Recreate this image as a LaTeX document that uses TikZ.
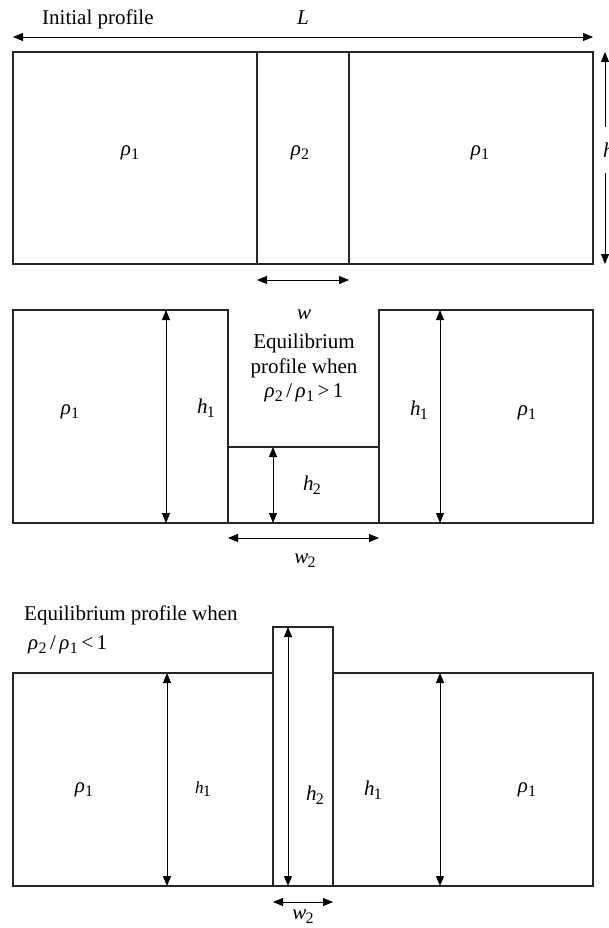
\documentclass[tikz,border=0pt]{standalone}
\usepackage{fontspec}
\setmainfont{Liberation Serif}
\usetikzlibrary{arrows.meta}
\newcommand{\subx}[1]{\raisebox{-0.42ex}{\fontsize{16}{16}\selectfont #1}}
\newcommand{\rh}[1]{\textit{ρ}\kern0.3pt\subx{#1}}
\newcommand{\hh}[1]{\textit{h}\kern-0.8pt\subx{#1}}
\newcommand{\ww}[1]{\textit{w}\kern-0.8pt\subx{#1}}
\tikzset{
  box/.style={draw=black!85, line width=1.2pt},
  dim/.style={line width=0.8pt, {Triangle[length=10pt,width=8pt]}-{Triangle[length=10pt,width=8pt]}},
  dimone/.style={line width=0.8pt, -{Triangle[length=10pt,width=8pt]}},
  lbl/.style={font=\fontsize{21}{24}\selectfont, inner sep=0pt},
  slbl/.style={font=\fontsize{17}{20}\selectfont, inner sep=0pt}
}
\begin{document}
\begin{tikzpicture}[x=1pt,y=-1pt]
\useasboundingbox (0,0) rectangle (608,928);
% ---------- Initial profile ----------
\node[lbl, anchor=base west] (tinit) at (42,25) {Initial profile};
\node[lbl, anchor=base] (tL) at (303,25) {\textit{L}};
\coordinate (La) at (13,37); \coordinate (Lb) at (593,37);
\draw[dim] (La) -- (Lb);
\draw[box] (13,52) rectangle (593,264);
\draw[box] (257,52) rectangle (349,264);
\node[lbl] (r1a) at (130,153) {\rh{1}};
\node[lbl] (r2a) at (300,153) {\rh{2}};
\node[lbl] (r1b) at (480,153) {\rh{1}};
\coordinate (hT) at (605,52); \coordinate (hTm) at (605,127);
\coordinate (hB) at (605,264); \coordinate (hBm) at (605,173);
\draw[dimone] (hTm) -- (hT);
\draw[dimone] (hBm) -- (hB);
\node[lbl, anchor=west] (hlab) at (603,150) {\textit{h}};
\coordinate (wa) at (257,280); \coordinate (wb) at (349,280);
\draw[dim] (wa) -- (wb);
\node[lbl] (wlab) at (304,315) {\textit{w}};
% ---------- Equilibrium rho2/rho1 > 1 ----------
\node[lbl] (eq1) at (304,343) {Equilibrium};
\node[lbl] (eq2) at (304,368) {profile when};
\node[lbl] (eq3) at (304,393) {\rh{2}\,/\,\rh{1}\,>\,1};
\draw[box] (13,310) rectangle (228,523);
\draw[box] (379,310) rectangle (593,523);
\draw[box] (228,447) rectangle (379,523);
\coordinate (m1t) at (166,310); \coordinate (m1b) at (166,523);
\coordinate (m2t) at (440,310); \coordinate (m2b) at (440,523);
\coordinate (m3t) at (273,447); \coordinate (m3b) at (273,523);
\draw[dim] (m1t) -- (m1b);
\draw[dim] (m2t) -- (m2b);
\draw[dim] (m3t) -- (m3b);
\coordinate (mwa) at (228,538); \coordinate (mwb) at (379,538);
\draw[dim] (mwa) -- (mwb);
\node[lbl] (mr1) at (70,412) {\rh{1}};
\node[lbl] (mh1) at (206,408) {\hh{1}};
\node[lbl] (mh2) at (312,485) {\hh{2}};
\node[lbl] (mh1b) at (419,410) {\hh{1}};
\node[lbl] (mr1b) at (527,413) {\rh{1}};
\node[lbl] (mw2) at (305,561) {\ww{2}};
% ---------- Equilibrium rho2/rho1 < 1 ----------
\node[lbl, anchor=west] (eq4) at (24,615) {Equilibrium profile when};
\node[lbl, anchor=west] (eq5) at (28,645) {\rh{2}\,/\,\rh{1}\,<\,1};
\draw[box] (13,673) rectangle (273,886);
\draw[box] (333,673) rectangle (593,886);
\draw[box] (273,627) rectangle (333,886);
\coordinate (b1t) at (167,673); \coordinate (b1b) at (167,886);
\coordinate (b2t) at (288,627); \coordinate (b2b) at (288,886);
\coordinate (b3t) at (440,673); \coordinate (b3b) at (440,886);
\draw[dim] (b1t) -- (b1b);
\draw[dim] (b2t) -- (b2b);
\draw[dim] (b3t) -- (b3b);
\coordinate (bwa) at (273,902); \coordinate (bwb) at (333,902);
\draw[dim] (bwa) -- (bwb);
\node[lbl] (br1) at (84,790) {\rh{1}};
\node[slbl] (bh1) at (203,789) {\hh{1}};
\node[lbl] (bh2) at (315,795) {\hh{2}};
\node[lbl] (bh1b) at (373,790) {\hh{1}};
\node[lbl] (br1b) at (527,790) {\rh{1}};
\node[lbl] (bw2) at (303,917) {\ww{2}};
\end{tikzpicture}
\end{document}
